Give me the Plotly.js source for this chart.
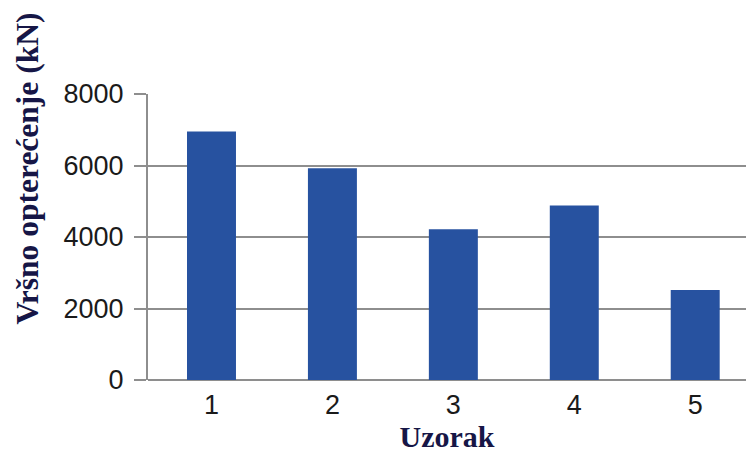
<!DOCTYPE html>
<html>
<head>
<meta charset="utf-8">
<script src="https://cdn.plot.ly/plotly-3.0.1.min.js"></script>
<style>html,body{margin:0;padding:0;background:#fff;}#chart{width:746px;height:457px;}</style>
</head>
<body>
<div id="chart"></div>
<script>
const categories = ["1", "2", "3", "4", "5"];
const peakLoad = [6950, 5920, 4220, 4880, 2520];
const yTicks = [0, 2000, 4000, 6000, 8000];
const yTitle = "Vršno opterećenje (kN)";
const xTitle = "Uzorak";

const trace = {
  type: "bar",
  x: categories,
  y: peakLoad,
  marker: {color: "#2752A0"},
  hoverinfo: "x+y"
};

const titleFont = {family: "Liberation Serif, Times New Roman, serif", size: 30, color: "#161646", weight: "bold"};
const yTitleFont = {family: "Liberation Serif, Times New Roman, serif", size: 31.5, color: "#161646", weight: "bold"};

const layout = {
  width: 746,
  height: 457,
  margin: {l: 148, r: 0, t: 94, b: 77},
  paper_bgcolor: "#fff",
  plot_bgcolor: "#fff",
  bargap: 0.595,
  showlegend: false,
  font: {family: "Liberation Sans, Arial, sans-serif", color: "#1a1a1a"},
  xaxis: {
    type: "category",
    range: [-0.525, 4.42],
    showgrid: false,
    showline: false,
    zeroline: false,
    ticks: "",
    tickfont: {size: 27, family: "Liberation Sans, Arial, sans-serif", color: "#1a1a1a"},
    ticklabelstandoff: 6,
    title: {
      text: xTitle,
      font: titleFont,
      standoff: 4
    }
  },
  yaxis: {
    range: [0, 8000],
    tickvals: yTicks,
    ticktext: yTicks.map(String),
    showgrid: true,
    gridcolor: "#8e8e8e",
    gridwidth: 2,
    showline: true,
    linecolor: "#8e8e8e",
    linewidth: 2,
    zeroline: true,
    zerolinecolor: "#8e8e8e",
    zerolinewidth: 2,
    ticks: "outside",
    ticklen: 12,
    tickwidth: 2,
    tickcolor: "#8e8e8e",
    ticklabelstandoff: 5,
    tickfont: {size: 27, family: "Liberation Sans, Arial, sans-serif", color: "#1a1a1a"}
  },
  annotations: [{
    text: yTitle,
    xref: "paper", yref: "paper",
    x: -0.202, y: 0.74,
    xanchor: "center", yanchor: "middle",
    textangle: -90,
    showarrow: false,
    font: yTitleFont
  }]
};

Plotly.newPlot("chart", [trace], layout, {displayModeBar: false, staticPlot: true});
</script>
</body>
</html>
